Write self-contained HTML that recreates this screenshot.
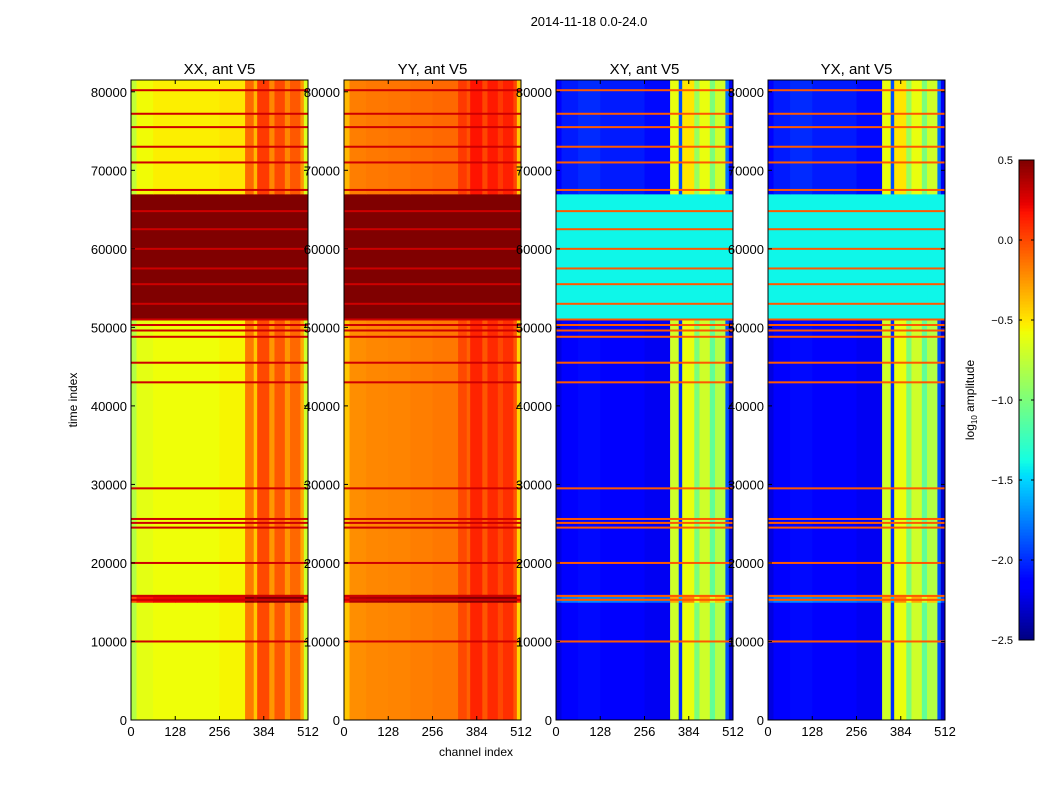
<!DOCTYPE html>
<html><head><meta charset="utf-8"><style>
body{margin:0;background:#fff;}
svg text{font-family:"Liberation Sans",sans-serif;}
</style></head><body>
<svg id="fig" width="1050" height="800" xmlns="http://www.w3.org/2000/svg">
<rect width="1050" height="800" fill="#fff"/>
<text x="589" y="26" font-size="13" text-anchor="middle">2014-11-18 0.0-24.0</text>
<text x="476" y="756" font-size="12" text-anchor="middle">channel index</text>
<text transform="translate(77,400) rotate(-90)" font-size="12" text-anchor="middle">time index</text>
<g id="panels"></g>
<g id="cbar"></g>
</svg>
<script>
const channelEdges = [0,16,64,128,192,256,330,355,365,400,415,445,460,490,500,512];
const profileXX = [-0.8,-0.62,-0.58,-0.58,-0.58,-0.55,-0.15,-0.4,0.0,-0.25,-0.05,-0.25,-0.1,-0.3,-0.7];
const profileYY = [-0.4,-0.22,-0.2,-0.19,-0.17,-0.15,0.0,-0.08,0.12,-0.04,0.1,0.0,0.08,-0.05,-0.45];
const profileXY = [-2.25,-2.15,-2.1,-2.15,-2.15,-2.2,-0.7,-2.0,-0.6,-1.0,-0.7,-1.1,-0.8,-1.9,-2.3];
const profileYX = [-2.25,-2.15,-2.1,-2.15,-2.15,-2.2,-0.7,-2.0,-0.6,-1.0,-0.7,-1.1,-0.8,-1.9,-2.3];
const timeEdges = [0,15000,16000,51000,67000,81500];
const offsetXX = [0,0.8,0,0,0.05];
const offsetYY = [0,0.6,0,0,0.05];
const offsetXY = [0,0.4,0,0,0.1];
const overrideXX = [null,null,null,0.6,null];
const overrideYY = [null,null,null,0.6,null];
const overrideXY = [null,null,null,-1.4,null];
const rfiTimes = [10000,15300,15800,20000,24500,25100,25600,29500,43000,45500,48800,49600,50300,51000,53000,55500,57500,60000,62500,64800,67500,71000,73000,75500,77200,80200];
const rfiXX = 0.3, rfiXY = -0.05;
const xTicks = [0,128,256,384,512];
const yTicks = [0,10000,20000,30000,40000,50000,60000,70000,80000];
const cbTicks = [-2.5,-2.0,-1.5,-1.0,-0.5,0.0,0.5];
const titles = ["XX, ant V5","YY, ant V5","XY, ant V5","YX, ant V5"];
const panelX = [131,344,556,768];
const PW=177, PT=80, PB=720, TMAX=81500, VMIN=-2.5, VMAX=0.5;
const NS="http://www.w3.org/2000/svg";
const JR=[[0,0],[0.35,0],[0.66,1],[0.89,1],[1,0.5]];
const JG=[[0,0],[0.125,0],[0.375,1],[0.64,1],[0.91,0],[1,0]];
const JB=[[0,0.5],[0.11,1],[0.34,1],[0.65,0],[1,0]];
function interp(p,t){for(let i=1;i<p.length;i++){if(t<=p[i][0]){const a=p[i-1],b=p[i];return a[1]+(b[1]-a[1])*(t-a[0])/(b[0]-a[0]);}}return p[p.length-1][1];}
function jet(v){
  let t=(v-VMIN)/(VMAX-VMIN); t=Math.max(0,Math.min(1,t));
  return `rgb(${Math.round(interp(JR,t)*255)},${Math.round(interp(JG,t)*255)},${Math.round(interp(JB,t)*255)})`;
}
function el(tag,attrs,parent){const e=document.createElementNS(NS,tag);for(const k in attrs)e.setAttribute(k,attrs[k]);parent.appendChild(e);return e;}
const yScale=t=>PB-t/TMAX*(PB-PT);
const panelsG=document.getElementById('panels');
const configs=[[profileXX,offsetXX,overrideXX,rfiXX],[profileYY,offsetYY,overrideYY,rfiXX],[profileXY,offsetXY,overrideXY,rfiXY],[profileYX,offsetXY,overrideXY,rfiXY]];
configs.forEach((cfg,pi)=>{
  const [prof,off,ovr,rfi]=cfg;
  const x0=panelX[pi];
  const xScale=c=>x0+c/512*PW;
  const g=el('g',{},panelsG);
  
  
  for(let b=0;b<timeEdges.length-1;b++){
    for(let c=0;c<prof.length;c++){
      const v=ovr[b]!==null?ovr[b]:prof[c]+off[b];
      const y1=yScale(timeEdges[b+1]), y2=yScale(timeEdges[b]);
      const r=el('rect',{x:xScale(channelEdges[c]),y:y1,width:xScale(channelEdges[c+1])-xScale(channelEdges[c])+0.5,height:y2-y1+0.5,fill:jet(v)},g);
      
      
    }
  }
  rfiTimes.forEach(t=>{
    const r=el('rect',{x:x0,y:yScale(t)-1,width:PW,height:2,fill:jet(rfi)},g);
    
    
  });
  const fr=el('rect',{x:x0,y:PT,width:PW,height:PB-PT,fill:'none',stroke:'#000','stroke-width':1},g);
  
  
  const tt=el('text',{x:x0+PW/2,y:74,'font-size':15,'text-anchor':'middle'},g);
  tt.textContent=titles[pi];
  
  
  xTicks.forEach(c=>{
    const x=xScale(c);
    el('line',{x1:x,x2:x,y1:PB,y2:PB-4,stroke:'#000'},g);
    el('line',{x1:x,x2:x,y1:PT,y2:PT+4,stroke:'#000'},g);
    const t=el('text',{x:x,y:736,'font-size':13,'text-anchor':'middle'},g);
    t.textContent=c;
    
    
  });
  yTicks.forEach(v=>{
    const y=yScale(v);
    el('line',{x1:x0,x2:x0+4,y1:y,y2:y,stroke:'#000'},g);
    el('line',{x1:x0+PW,x2:x0+PW-4,y1:y,y2:y,stroke:'#000'},g);
    const t=el('text',{x:x0-4,y:y+5,'font-size':13,'text-anchor':'end'},g);
    t.textContent=v;
    
    
  });
});
const cb=document.getElementById('cbar');
const CX=1019,CW=15,CT=160,CBt=640;
const cbY=v=>CBt-(v-VMIN)/(VMAX-VMIN)*(CBt-CT);
for(let i=0;i<160;i++){
  const v=VMIN+(i+0.5)/160*(VMAX-VMIN);
  const y=cbY(VMIN+(i+1)/160*(VMAX-VMIN));
  const r=el('rect',{x:CX,y:y,width:CW,height:(CBt-CT)/160+0.5,fill:jet(v)},cb);
  
  
}
const cf=el('rect',{x:CX,y:CT,width:CW,height:CBt-CT,fill:'none',stroke:'#000'},cb);


cbTicks.forEach(v=>{
  const y=cbY(v);
  el('line',{x1:CX,x2:CX+3,y1:y,y2:y,stroke:'#000'},cb);
  el('line',{x1:CX+CW-3,x2:CX+CW,y1:y,y2:y,stroke:'#000'},cb);
  const t=el('text',{x:CX-6,y:y+4,'font-size':11,'text-anchor':'end'},cb);
  t.textContent=(v<0?'\u2212':'')+Math.abs(v).toFixed(1);
  
  
});
const cl=el('text',{transform:'translate(974,400) rotate(-90)','font-size':12,'text-anchor':'middle'},cb);
cl.innerHTML='log<tspan font-size="8" dy="3">10</tspan><tspan dy="-3"> amplitude</tspan>';


</script>
</body></html>
